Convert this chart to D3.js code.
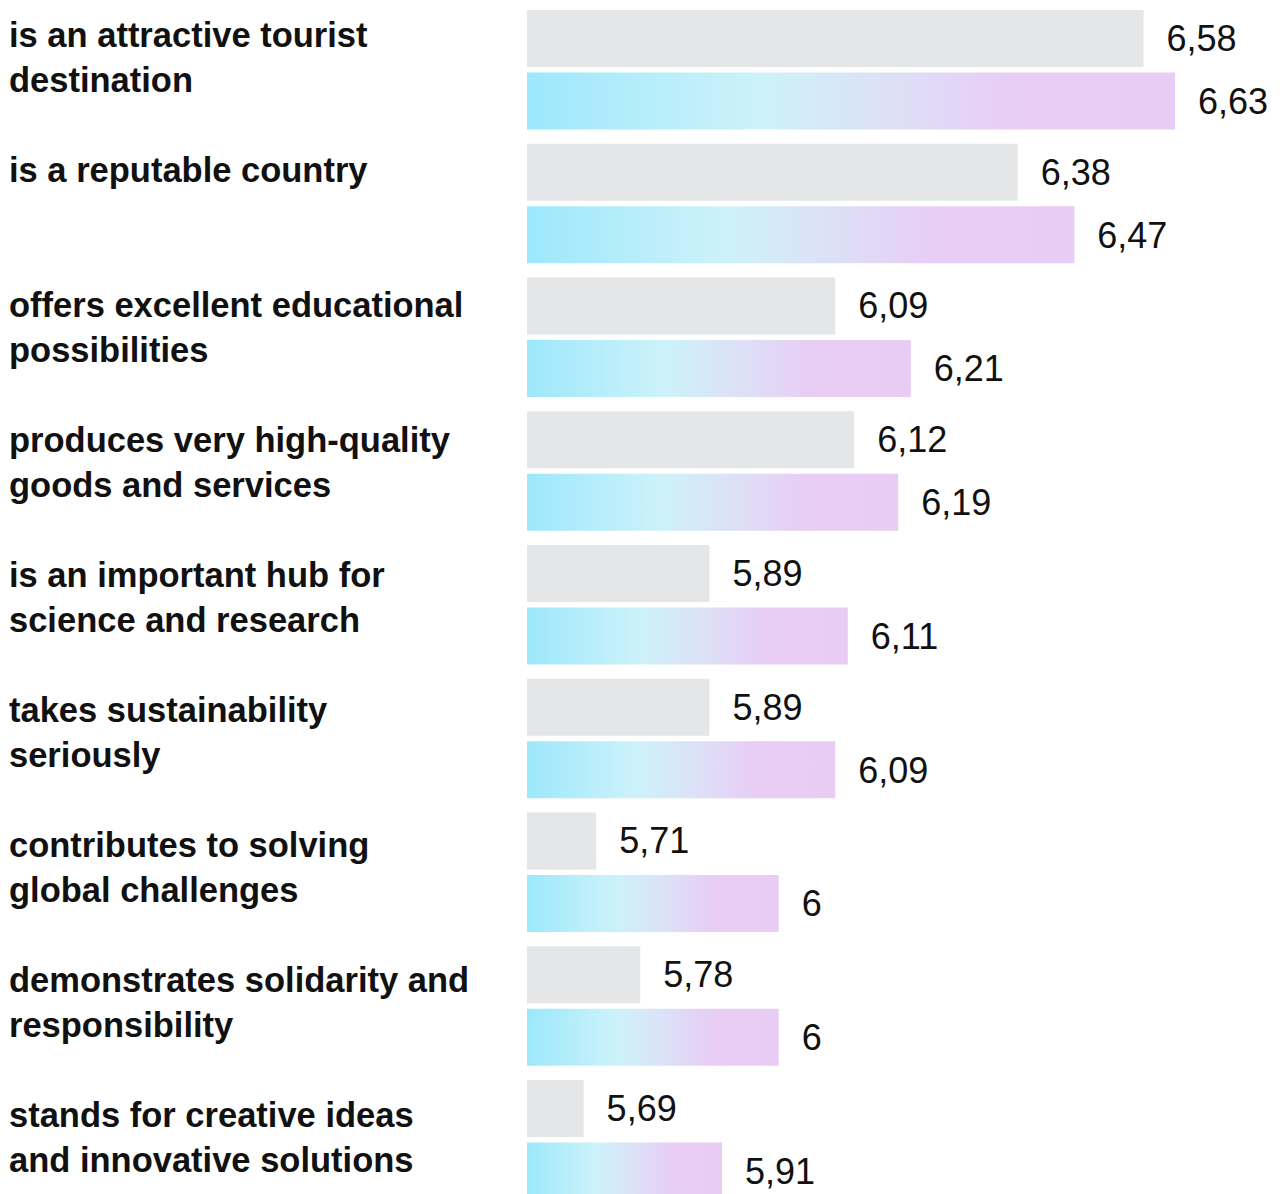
<!DOCTYPE html>
<html><head><meta charset="utf-8">
<script src="https://cdn.jsdelivr.net/npm/d3@7"></script>
<style>
html,body{margin:0;padding:0;background:#fff;}
svg{display:block;}
</style></head>
<body>
<script>
const categories = [
  ["is an attractive tourist", "destination"],
  ["is a reputable country"],
  ["offers excellent educational", "possibilities"],
  ["produces very high-quality", "goods and services"],
  ["is an important hub for", "science and research"],
  ["takes sustainability", "seriously"],
  ["contributes to solving", "global challenges"],
  ["demonstrates solidarity and", "responsibility"],
  ["stands for creative ideas", "and innovative solutions"]
];
const previousValues = [6.58, 6.38, 6.09, 6.12, 5.89, 5.89, 5.71, 5.78, 5.69];
const currentValues  = [6.63, 6.47, 6.21, 6.19, 6.11, 6.09, 6.00, 6.00, 5.91];
const valueLabelsPrev = ["6,58","6,38","6,09","6,12","5,89","5,89","5,71","5,78","5,69"];
const valueLabelsCurr = ["6,63","6,47","6,21","6,19","6,11","6,09","6","6","5,91"];

const W = 1284, H = 1194;
const svg = d3.select("body").append("svg").attr("width", W).attr("height", H);

const defs = svg.append("defs");
const grad = defs.append("linearGradient").attr("id","barGrad")
  .attr("x1","0%").attr("x2","100%").attr("y1","0%").attr("y2","0%");
[[0,"#9de8fc"],[0.36,"#cdf2f9"],[0.56,"#dde0f7"],[0.74,"#e8cdf5"],[1,"#e9ccf4"]]
  .forEach(([o,c]) => grad.append("stop").attr("offset", o).attr("stop-color", c));

const x = d3.scaleLinear().domain([5.6, 6.63]).range([527, 1175]);
const y = d3.scaleBand().domain(d3.range(categories.length))
  .range([10, 10 + 133.75*categories.length]).paddingInner(0).paddingOuter(0);
const yLabel = d3.scaleLinear().domain([0, categories.length-1]).range([35, 1115]);
const barH = 57, offset2 = 62.5;

const g = svg.append("g");
const groups = g.selectAll("g.grp").data(categories.map((c,i)=>({c,i})))
  .join("g").attr("class","grp");

groups.append("rect")
  .attr("x", x(5.6)).attr("y", d => y(d.i))
  .attr("width", d => x(previousValues[d.i]) - x(5.6)).attr("height", barH)
  .attr("fill", "#e5e6e8");
groups.append("rect")
  .attr("x", x(5.6)).attr("y", d => y(d.i) + offset2)
  .attr("width", d => x(currentValues[d.i]) - x(5.6)).attr("height", barH)
  .attr("fill", "url(#barGrad)");

const vfont = "'Liberation Sans', Arial, sans-serif";
groups.append("text")
  .attr("x", d => x(previousValues[d.i]) + 23).attr("y", d => y(d.i) + barH/2 - 0.5)
  .attr("dy","0.36em").attr("font-family", vfont).attr("font-size", 36)
  .attr("fill","#111").text(d => valueLabelsPrev[d.i]);
groups.append("text")
  .attr("x", d => x(currentValues[d.i]) + 23).attr("y", d => y(d.i) + offset2 + barH/2)
  .attr("dy","0.36em").attr("font-family", vfont).attr("font-size", 36)
  .attr("fill","#111").text(d => valueLabelsCurr[d.i]);

const lab = groups.append("text")
  .attr("font-family", vfont).attr("font-weight", "bold").attr("font-size", 34.5)
  .attr("fill", "#111");
lab.selectAll("tspan").data(d => d.c.map((t,k)=>({t,k,i:d.i})))
  .join("tspan")
  .attr("x", 9)
  .attr("y", d => yLabel(d.i) + d.k*44.5)
  .attr("dy", "0.36em")
  .text(d => d.t);
</script>
</body></html>
